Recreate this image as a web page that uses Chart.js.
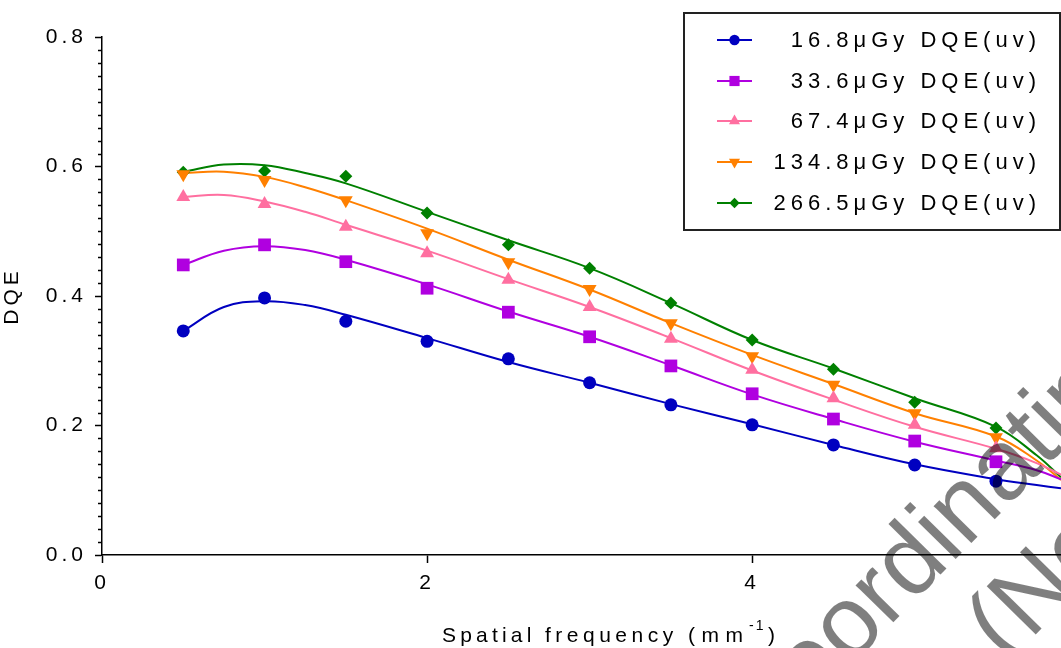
<!DOCTYPE html>
<html>
<head>
<meta charset="utf-8">
<script src="https://cdn.jsdelivr.net/npm/chart.js@4"></script>
<style>
  html, body { margin: 0; padding: 0; background: #fff; }
  #wrap { width: 1061px; height: 648px; }
</style>
</head>
<body>
<div id="wrap"><canvas id="dqeChart" width="1061" height="648"></canvas></div>
<script>
const FONT = 'Arial, "Liberation Sans", sans-serif';

const seriesLabels = ["16.8\u03bcGy DQE(uv)", "33.6\u03bcGy DQE(uv)", "67.4\u03bcGy DQE(uv)", "134.8\u03bcGy DQE(uv)", "266.5\u03bcGy DQE(uv)"];
const seriesColors = ["#0000c0", "#b000e0", "#ff6fa0", "#ff8000", "#008000"];
const pointStyles = ["circle", "rect", "triangle", "triangle", "rectRot"];
const pointRotations = [0, 0, 0, 180, 0];
const pointSizes = [6.5, 9, 8, 8, 6.5];

// measured points
const freq = [0.5, 1, 1.5, 2, 2.5, 3, 3.5, 4, 4.5, 5, 5.5];
const dqe168 = [0.346, 0.397, 0.361, 0.330, 0.303, 0.266, 0.232, 0.201, 0.170, 0.139, 0.114];
const dqe336 = [0.448, 0.479, 0.453, 0.412, 0.375, 0.337, 0.292, 0.249, 0.210, 0.176, 0.144];
const dqe674 = [0.553, 0.542, 0.507, 0.466, 0.425, 0.383, 0.334, 0.286, 0.242, 0.201, 0.165];
const dqe1348 = [0.588, 0.579, 0.548, 0.497, 0.452, 0.411, 0.358, 0.307, 0.263, 0.219, 0.182];
const dqe2665 = [0.591, 0.593, 0.585, 0.528, 0.479, 0.443, 0.389, 0.332, 0.287, 0.236, 0.196];

// fitted curves
const fitFreq = [0.5, 0.75, 1, 1.25, 1.5, 2, 2.5, 3, 3.5, 4, 4.5, 5, 5.5, 5.75, 5.9];
const fit168 = [0.346, 0.383, 0.392, 0.386, 0.371, 0.335, 0.298, 0.266, 0.233, 0.202, 0.170, 0.140, 0.117, 0.108, 0.103];
const fit336 = [0.448, 0.470, 0.477, 0.471, 0.456, 0.418, 0.376, 0.337, 0.293, 0.248, 0.210, 0.175, 0.146, 0.131, 0.117];
const fit674 = [0.553, 0.556, 0.546, 0.530, 0.510, 0.470, 0.426, 0.383, 0.335, 0.285, 0.240, 0.198, 0.164, 0.142, 0.124];
const fit1348 = [0.590, 0.592, 0.584, 0.568, 0.548, 0.504, 0.456, 0.410, 0.358, 0.309, 0.264, 0.219, 0.183, 0.146, 0.116];
const fit2665 = [0.592, 0.603, 0.602, 0.590, 0.574, 0.530, 0.486, 0.443, 0.389, 0.332, 0.288, 0.242, 0.198, 0.154, 0.120];

const yTickLabels = ["0.0", "0.2", "0.4", "0.6", "0.8"];
const xTickLabels = ["0", "2", "4"];

const pointSets = [dqe168, dqe336, dqe674, dqe1348, dqe2665];
const fitSets = [fit168, fit336, fit674, fit1348, fit2665];

const datasets = [];
pointSets.forEach((vals, i) => {
    datasets.push({
        label: seriesLabels[i],
        data: vals.map((v, j) => ({ x: freq[j], y: v })),
        showLine: false,
        pointStyle: pointStyles[i],
        rotation: pointRotations[i],
        pointRadius: pointSizes[i],
        backgroundColor: seriesColors[i],
        borderColor: seriesColors[i],
        borderWidth: 0,
        order: 1
    });
    datasets.push({
        label: seriesLabels[i] + " fit",
        data: fitSets[i].map((v, j) => ({ x: fitFreq[j], y: v })),
        borderColor: seriesColors[i],
        borderWidth: 2,
        pointRadius: 0,
        tension: 0.4,
        fill: false,
        order: 2
    });
});

const spacing = {
    id: "spacing",
    beforeUpdate(chart) { chart.ctx.letterSpacing = "4px"; },
    beforeDraw(chart) { chart.ctx.letterSpacing = "4px"; }
};

const minorTicks = {
    id: "minorTicks",
    afterDraw(chart) {
        const ctx = chart.ctx;
        const y = chart.scales.y;
        const left = chart.chartArea.left;
        ctx.save();
        ctx.strokeStyle = "#000";
        ctx.lineWidth = 1.5;
        for (let k = 0; k <= 40; k++) {
            if (k % 10 === 0) continue;
            const py = Math.round(y.getPixelForValue(k * 0.02)) + 0.5;
            ctx.beginPath();
            ctx.moveTo(left - 4, py);
            ctx.lineTo(left, py);
            ctx.stroke();
        }
        ctx.restore();
    }
};

const xTitle = {
    id: "xTitle",
    afterDraw(chart) {
        const ctx = chart.ctx;
        const base = 642;
        ctx.save();
        ctx.fillStyle = "#000";
        ctx.textBaseline = "alphabetic";
        ctx.textAlign = "left";
        ctx.font = "21px " + FONT;
        ctx.letterSpacing = "4.2px";
        ctx.fillText("Spatial", 442, base);
        ctx.letterSpacing = "4.5px";
        ctx.fillText("frequency", 545, base);
        ctx.letterSpacing = "6.5px";
        ctx.fillText("(mm", 688, base);
        ctx.font = "14px " + FONT;
        ctx.letterSpacing = "2px";
        ctx.fillText("-1", 749, base - 12);
        ctx.font = "21px " + FONT;
        ctx.letterSpacing = "0px";
        ctx.fillText(")", 768, base);
        ctx.restore();
    }
};

const boxLegend = {
    id: "boxLegend",
    afterDraw(chart) {
        const ctx = chart.ctx;
        ctx.save();
        ctx.strokeStyle = "#222";
        ctx.lineWidth = 2;
        ctx.strokeRect(684, 13, 376, 217);
        ctx.font = "22px " + FONT;
        ctx.letterSpacing = "5px";
        ctx.textAlign = "right";
        ctx.textBaseline = "middle";
        const rows = [40, 81, 121, 162, 203];
        seriesLabels.forEach((lab, i) => {
            const yy = rows[i];
            ctx.strokeStyle = seriesColors[i];
            ctx.lineWidth = 2;
            ctx.beginPath();
            ctx.moveTo(717, yy);
            ctx.lineTo(752, yy);
            ctx.stroke();
            ctx.fillStyle = seriesColors[i];
            Chart.helpers.drawPoint(ctx, {
                pointStyle: pointStyles[i],
                rotation: pointRotations[i],
                radius: pointSizes[i] * 0.8,
                borderWidth: 0
            }, 734.5, yy);
            ctx.fillStyle = "#000";
            ctx.fillText(lab, 1041, yy + 1);
        });
        ctx.restore();
    }
};

const watermark = {
    id: "watermark",
    afterDraw(chart) {
        const ctx = chart.ctx;
        ctx.save();
        ctx.fillStyle = "rgba(0,0,0,0.5)";
        ctx.letterSpacing = "0px";
        ctx.font = "100px " + FONT;
        ctx.textBaseline = "alphabetic";
        ctx.textAlign = "left";
        ctx.translate(760, 758);
        ctx.rotate(-45.5 * Math.PI / 180);
        ctx.fillText("Coordinating Editor", 0, 0);
        ctx.fillText("(Not for Distribution)", 240, 110);
        ctx.restore();
    }
};

new Chart(document.getElementById("dqeChart"), {
    type: "line",
    data: { datasets },
    options: {
        responsive: false,
        animation: false,
        events: [],
        layout: { autoPadding: false, padding: { top: 37, right: 0, left: 0, bottom: 0 } },
        plugins: {
            legend: { display: false },
            tooltip: { enabled: false }
        },
        scales: {
            x: {
                type: "linear",
                min: 0,
                max: 5.9,
                afterBuildTicks(scale) {
                    scale.ticks = xTickLabels.map(t => ({ value: Number(t) }));
                },
                afterFit(scale) {
                    scale.height = 93;
                    scale.paddingRight = 0;
                    scale.paddingLeft = 0;
                },
                border: { display: true, color: "#000", width: 1.5 },
                grid: { display: true, drawOnChartArea: false, drawTicks: true, tickLength: 8, tickColor: "#000", tickWidth: 1.5 },
                ticks: {
                    color: "#000",
                    font: { family: FONT, size: 21 },
                    padding: 8,
                    maxRotation: 0,
                    callback: (v) => xTickLabels.find(t => Number(t) === v) || ""
                }
            },
            y: {
                type: "linear",
                min: 0,
                max: 0.8,
                afterBuildTicks(scale) {
                    scale.ticks = yTickLabels.map(t => ({ value: Number(t) }));
                },
                afterFit(scale) { scale.width = 102; },
                border: { display: true, color: "#000", width: 1.5 },
                grid: { display: true, drawOnChartArea: false, drawTicks: true, tickLength: 7, tickColor: "#000", tickWidth: 1.5 },
                title: {
                    display: true,
                    text: "DQE",
                    color: "#000",
                    font: { family: FONT, size: 21 },
                    padding: { top: 0, bottom: 4 }
                },
                ticks: {
                    color: "#000",
                    font: { family: FONT, size: 21 },
                    padding: 8,
                    callback: (v) => yTickLabels.find(t => Number(t) === v) || ""
                }
            }
        }
    },
    plugins: [spacing, minorTicks, xTitle, boxLegend, watermark]
});
</script>
</body>
</html>
